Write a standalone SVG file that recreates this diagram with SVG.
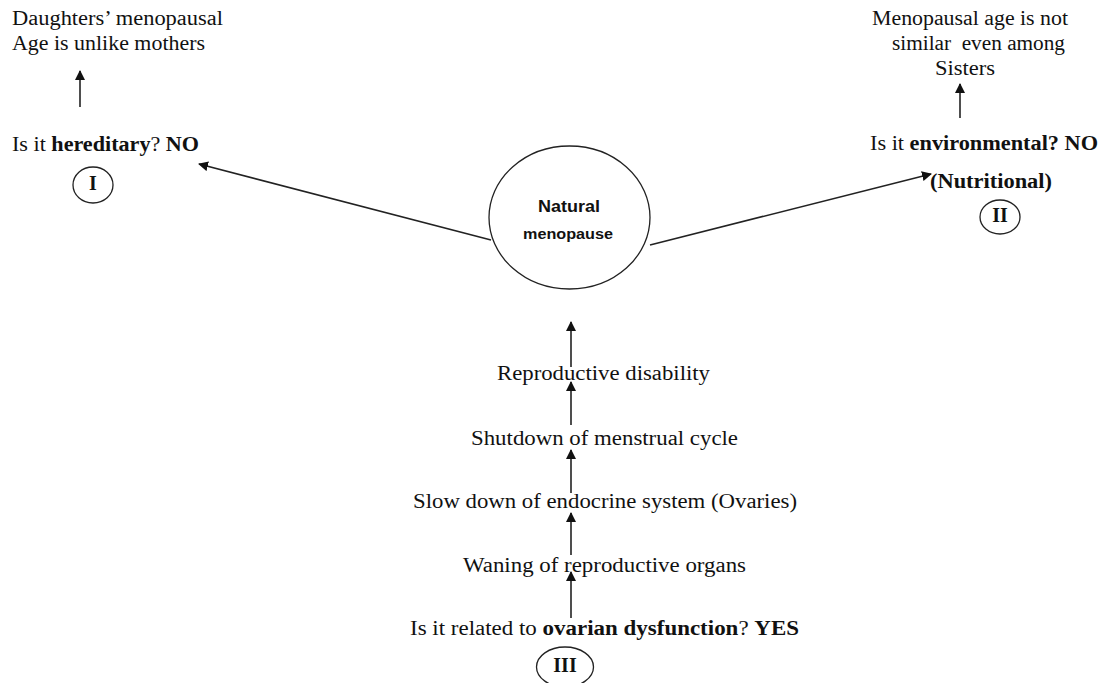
<svg xmlns="http://www.w3.org/2000/svg" width="1102" height="683" viewBox="0 0 1102 683">
<style>
.t{font-family:"Liberation Serif","Times New Roman",serif;font-size:20px;fill:#111}
.b{font-weight:bold}
.c{fill:none;stroke:#222;stroke-width:1.3}
.ln{fill:none;stroke:#222;stroke-width:1.6}
.n{font-family:"Liberation Sans","Open Sans",sans-serif;font-weight:bold;fill:#111}
</style>
<defs>
<marker id="ah" viewBox="0 0 10 10" refX="9" refY="5" markerWidth="10" markerHeight="10" markerUnits="userSpaceOnUse" orient="auto">
<path d="M0,0 L10,5 L0,10 z" fill="#111"/>
</marker>
</defs>
<rect width="1102" height="683" fill="#fff"/>
<g id="connectors">
<line class="ln" x1="491" y1="240" x2="199" y2="164" marker-end="url(#ah)"/>
<line class="ln" x1="650" y1="245" x2="931" y2="174" marker-end="url(#ah)"/>
<line class="ln" x1="80" y1="107" x2="80" y2="71" marker-end="url(#ah)"/>
<line class="ln" x1="960" y1="118" x2="960" y2="84" marker-end="url(#ah)"/>
<line class="ln" x1="571" y1="367" x2="571" y2="322" marker-end="url(#ah)"/>
<line class="ln" x1="571" y1="425" x2="571" y2="382" marker-end="url(#ah)"/>
<line class="ln" x1="571" y1="493" x2="571" y2="450" marker-end="url(#ah)"/>
<line class="ln" x1="571" y1="555" x2="571" y2="513" marker-end="url(#ah)"/>
<line class="ln" x1="571" y1="618" x2="571" y2="572" marker-end="url(#ah)"/>
</g>
<g id="natural">
<ellipse class="c" cx="569.5" cy="217.5" rx="80.5" ry="71.5"/>
<text class="n" x="538" y="212" font-size="16" textLength="62" lengthAdjust="spacingAndGlyphs">Natural</text>
<text class="n" x="523" y="239" font-size="14" textLength="90" lengthAdjust="spacingAndGlyphs">menopause</text>
</g>
<g id="hereditary">
<text class="t" x="12" y="151" textLength="187" lengthAdjust="spacingAndGlyphs">Is it <tspan class="b">hereditary</tspan>? <tspan class="b">NO</tspan></text>
</g>
<g id="circle-I">
<ellipse class="c" cx="93" cy="185" rx="20" ry="18"/>
<text class="t b" x="93" y="190" font-size="15" text-anchor="middle">I</text>
</g>
<g id="daughters">
<text class="t" x="12" y="25" textLength="211" lengthAdjust="spacingAndGlyphs">Daughters’ menopausal</text>
<text class="t" x="12" y="50" textLength="193" lengthAdjust="spacingAndGlyphs">Age is unlike mothers</text>
</g>
<g id="sisters">
<text class="t" x="872" y="25" textLength="196" lengthAdjust="spacingAndGlyphs">Menopausal age is not</text>
<text class="t" x="892" y="50" textLength="173" lengthAdjust="spacingAndGlyphs" xml:space="preserve">similar  even among</text>
<text class="t" x="935" y="75" textLength="60" lengthAdjust="spacingAndGlyphs">Sisters</text>
</g>
<g id="environmental">
<text class="t" x="870" y="150" textLength="228" lengthAdjust="spacingAndGlyphs">Is it <tspan class="b">environmental? NO</tspan></text>
<text class="t b" x="930" y="188" textLength="122" lengthAdjust="spacingAndGlyphs">(Nutritional)</text>
</g>
<g id="circle-II">
<ellipse class="c" cx="1000" cy="217" rx="20" ry="17"/>
<text class="t b" x="1000" y="222" font-size="15" text-anchor="middle">II</text>
</g>
<g id="reproductive-disability"><text class="t" x="497" y="380" textLength="213" lengthAdjust="spacingAndGlyphs">Reproductive disability</text></g>
<g id="shutdown"><text class="t" x="471" y="445" textLength="267" lengthAdjust="spacingAndGlyphs">Shutdown of menstrual cycle</text></g>
<g id="slowdown"><text class="t" x="413" y="508" textLength="384" lengthAdjust="spacingAndGlyphs">Slow down of endocrine system (Ovaries)</text></g>
<g id="waning"><text class="t" x="463" y="572" textLength="283" lengthAdjust="spacingAndGlyphs">Waning of reproductive organs</text></g>
<g id="ovarian"><text class="t" x="410" y="635" textLength="389" lengthAdjust="spacingAndGlyphs">Is it related to <tspan class="b">ovarian dysfunction</tspan>? <tspan class="b">YES</tspan></text></g>
<g id="circle-III">
<ellipse class="c" cx="565" cy="667" rx="28.5" ry="20"/>
<text class="t b" x="565" y="672" font-size="15" text-anchor="middle">III</text>
</g>
</svg>
